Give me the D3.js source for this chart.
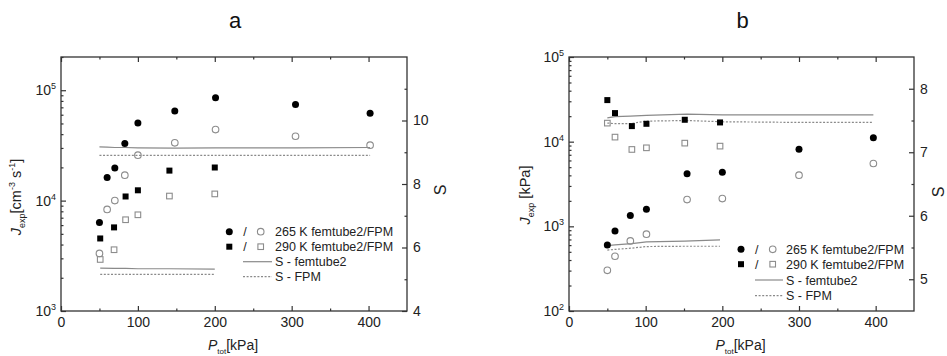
<!DOCTYPE html>
<html>
<head>
<meta charset="utf-8">
<script src="https://cdn.jsdelivr.net/npm/d3@7"></script>
<style>
  body { margin: 0; background: #fff; }
  svg { display: block; font-family: Arial, 'Liberation Sans', Helvetica, sans-serif; }
  .axis path { display: none; }
  .axis line { stroke: #333; stroke-width: 1.2; }
  .axis text { fill: #222; font-size: 14px; font-family: Arial, 'Liberation Sans', sans-serif; }
</style>
</head>
<body>
<svg id="chart" width="947" height="356"></svg>
<script>
// x axis (P_tot, kPa), same for both panels
const xTicks = [0, 100, 200, 300, 400];
const xMinor = [50, 150, 250, 350];

// panel a: J_exp [cm^-3 s^-1]
const aX265 = [50, 60, 70, 83, 100, 148, 201, 305, 402];
const aJ265Fem = [6340, 16200, 19700, 32900, 50600, 65000, 85300, 74200, 61900];
const aJ265Fpm = [3320, 8320, 10000, 17000, 25800, 33400, 44000, 38300, 31800];
const aX290 = [51, 69, 84, 100, 141, 200];
const aJ290Fem = [4540, 5720, 10900, 12400, 18700, 19950];
const aJ290Fpm = [2930, 3590, 6710, 7440, 11000, 11500];
const aS265Fem = [9.17, 9.16, 9.15, 9.15, 9.14, 9.13, 9.14, 9.14, 9.15];
const aS265Fpm = [8.9, 8.9, 8.9, 8.9, 8.9, 8.9, 8.9, 8.9, 8.9];
const aS290Fem = [5.35, 5.34, 5.34, 5.33, 5.33, 5.32];
const aS290Fpm = [5.155, 5.155, 5.155, 5.155, 5.155, 5.155];
const aJTicks = [1e3, 1e4, 1e5];
const aSTicks = [4, 6, 8, 10];
const aSMinor = [5, 7, 9, 11];

// panel b: J_exp [kPa]
const bX265 = [50, 60, 80, 101, 154, 200, 300, 397];
const bJ265Fem = [603, 883, 1340, 1590, 4170, 4360, 8160, 11100];
const bJ265Fpm = [302, 443, 672, 807, 2070, 2130, 4020, 5520];
const bX290 = [50, 60, 82, 101, 151, 197];
const bJ290Fem = [30970, 21750, 15270, 16260, 18140, 16870];
const bJ290Fpm = [16560, 11320, 8090, 8460, 9610, 8860];
const bS265Fem = [7.54, 7.56, 7.57, 7.58, 7.6, 7.59, 7.59, 7.59];
const bS265Fpm = [7.46, 7.45, 7.45, 7.49, 7.5, 7.48, 7.47, 7.47];
const bS290Fem = [5.53, 5.54, 5.56, 5.59, 5.6, 5.62];
const bS290Fpm = [5.46, 5.47, 5.49, 5.515, 5.52, 5.52];
const bJTicks = [1e2, 1e3, 1e4, 1e5];
const bSTicks = [5, 6, 7, 8];
const bSMinor = [5.5, 6.5, 7.5];

const legendLabels = ['265 K femtube2/FPM', '290 K femtube2/FPM', 'S - femtube2', 'S - FPM'];

const svg = d3.select('#chart');
const openColor = '#8c8c8c';
const lineColor = '#8a8a8a';

function drawPanel(p) {
  const x = d3.scaleLinear().domain([0, 450]).range([p.left, p.right]);
  const y = d3.scaleLog().domain(p.jDomain).range([p.bottom, p.top]);
  const s = d3.scaleLinear().domain(p.sDomain).range([p.bottom, p.top]);

  const g = svg.append('g');

  // frame
  g.append('rect')
    .attr('x', p.left).attr('y', p.top)
    .attr('width', p.right - p.left).attr('height', p.bottom - p.top)
    .attr('fill', 'none').attr('stroke', '#333').attr('stroke-width', 1.3);

  // bottom + top axis (ticks inward)
  g.append('g').attr('class', 'axis').attr('transform', 'translate(0,' + p.bottom + ')')
    .call(d3.axisBottom(x).tickValues(xTicks).tickSizeInner(-5).tickSizeOuter(0).tickPadding(6));
  g.append('g').attr('class', 'axis').attr('transform', 'translate(0,' + p.bottom + ')')
    .call(d3.axisBottom(x).tickValues(xMinor).tickSizeInner(-2.5).tickSizeOuter(0).tickFormat(''));
  g.append('g').attr('class', 'axis').attr('transform', 'translate(0,' + p.top + ')')
    .call(d3.axisTop(x).tickValues(xTicks).tickSizeInner(-5).tickSizeOuter(0).tickFormat(''));
  g.append('g').attr('class', 'axis').attr('transform', 'translate(0,' + p.top + ')')
    .call(d3.axisTop(x).tickValues(xMinor).tickSizeInner(-2.5).tickSizeOuter(0).tickFormat(''));

  // left log axis
  const minor = y.ticks().filter(v => p.jTicks.indexOf(v) < 0);
  g.append('g').attr('class', 'axis').attr('transform', 'translate(' + p.left + ',0)')
    .call(d3.axisLeft(y).tickValues(p.jTicks).tickSizeInner(-5).tickSizeOuter(0).tickFormat(''));
  g.append('g').attr('class', 'axis').attr('transform', 'translate(' + p.left + ',0)')
    .call(d3.axisLeft(y).tickValues(minor).tickSizeInner(-2.5).tickSizeOuter(0).tickFormat(''));

  p.jTicks.forEach(v => {
    const t = g.append('text')
      .attr('x', p.left - 5).attr('y', y(v) + 5)
      .attr('text-anchor', 'end').attr('fill', '#222').attr('font-size', 14);
    t.append('tspan').text('10');
    t.append('tspan').attr('dy', -6).attr('font-size', 9).text(Math.round(Math.log10(v)));
  });

  // right S axis
  g.append('g').attr('class', 'axis').attr('transform', 'translate(' + p.right + ',0)')
    .call(d3.axisRight(s).tickValues(p.sTicks).tickSizeInner(-5).tickSizeOuter(0).tickPadding(6).tickFormat(d3.format('d')));
  g.append('g').attr('class', 'axis').attr('transform', 'translate(' + p.right + ',0)')
    .call(d3.axisRight(s).tickValues(p.sMinor).tickSizeInner(-2.5).tickSizeOuter(0).tickFormat(''));

  // S lines
  const line = d3.line().x(d => x(d[0])).y(d => s(d[1]));
  [[p.x265, p.s265Fem, null], [p.x265, p.s265Fpm, '2,1.6'],
   [p.x290, p.s290Fem, null], [p.x290, p.s290Fpm, '2,1.6']].forEach(l => {
    g.append('path')
      .attr('d', line(d3.zip(l[0], l[1])))
      .attr('fill', 'none').attr('stroke', lineColor).attr('stroke-width', 1.2)
      .attr('stroke-dasharray', l[2]);
  });

  // markers
  g.selectAll(null).data(d3.zip(p.x265, p.j265Fpm)).enter().append('circle')
    .attr('cx', d => x(d[0])).attr('cy', d => y(d[1])).attr('r', 3.3)
    .attr('fill', 'none').attr('stroke', openColor).attr('stroke-width', 1.1);
  g.selectAll(null).data(d3.zip(p.x290, p.j290Fpm)).enter().append('rect')
    .attr('x', d => x(d[0]) - 2.8).attr('y', d => y(d[1]) - 2.8)
    .attr('width', 5.6).attr('height', 5.6)
    .attr('fill', 'none').attr('stroke', openColor).attr('stroke-width', 1.1);
  g.selectAll(null).data(d3.zip(p.x265, p.j265Fem)).enter().append('circle')
    .attr('cx', d => x(d[0])).attr('cy', d => y(d[1])).attr('r', 3.5)
    .attr('fill', '#000');
  g.selectAll(null).data(d3.zip(p.x290, p.j290Fem)).enter().append('rect')
    .attr('x', d => x(d[0]) - 3).attr('y', d => y(d[1]) - 3)
    .attr('width', 6).attr('height', 6)
    .attr('fill', '#000');

  // legend
  const lg = p.legend;
  lg.rows.forEach((ry, i) => {
    if (i < 2) {
      if (i === 0) {
        g.append('circle').attr('cx', lg.x0).attr('cy', ry).attr('r', 3.5).attr('fill', '#000');
        g.append('circle').attr('cx', lg.x2).attr('cy', ry).attr('r', 3.3)
          .attr('fill', 'none').attr('stroke', openColor).attr('stroke-width', 1.1);
      } else {
        g.append('rect').attr('x', lg.x0 - 3).attr('y', ry - 3).attr('width', 6).attr('height', 6).attr('fill', '#000');
        g.append('rect').attr('x', lg.x2 - 2.8).attr('y', ry - 2.8).attr('width', 5.6).attr('height', 5.6)
          .attr('fill', 'none').attr('stroke', openColor).attr('stroke-width', 1.1);
      }
      g.append('text').attr('x', lg.x1).attr('y', ry + 4.5).attr('text-anchor', 'middle')
        .attr('font-size', 12.5).attr('fill', '#222').text('/');
    } else {
      g.append('line').attr('x1', lg.l0).attr('x2', lg.l1).attr('y1', ry).attr('y2', ry)
        .attr('stroke', lineColor).attr('stroke-width', 1.2)
        .attr('stroke-dasharray', i === 3 ? '2,1.6' : null);
    }
    g.append('text').attr('x', lg.x3).attr('y', ry + 4.5)
      .attr('font-size', 12.5).attr('fill', '#222').text(legendLabels[i]);
  });

  // titles
  g.append('text').attr('x', (p.left + p.right) / 2 + 1).attr('y', 28)
    .attr('text-anchor', 'middle').attr('font-size', 22).attr('fill', '#111').text(p.title);

  const xt = g.append('text').attr('x', (p.left + p.right) / 2 - 1).attr('y', 350)
    .attr('text-anchor', 'middle').attr('font-size', 14).attr('fill', '#222');
  xt.append('tspan').attr('font-style', 'italic').text('P');
  xt.append('tspan').attr('dy', 3.5).attr('font-size', 8).text('tot');
  xt.append('tspan').attr('dy', -3.5).text('[kPa]');

  const yt = g.append('text')
    .attr('transform', 'translate(' + p.yTitleX + ',' + p.yTitleY + ') rotate(-90)')
    .attr('text-anchor', 'middle').attr('font-size', 14.5).attr('fill', '#222');
  yt.append('tspan').attr('font-style', 'italic').text('J');
  yt.append('tspan').attr('dy', 4).attr('font-size', 9).text('exp');
  if (p.unitsCm) {
    yt.append('tspan').attr('dy', -4).text('[cm');
    yt.append('tspan').attr('dy', -6).attr('font-size', 9).text('-3');
    yt.append('tspan').attr('dy', 6).text(' s');
    yt.append('tspan').attr('dy', -6).attr('font-size', 9).text('-1');
    yt.append('tspan').attr('dy', 6).text(']');
  } else {
    yt.append('tspan').attr('dy', -4).text(' [kPa]');
  }

  g.append('text')
    .attr('transform', 'translate(' + p.sTitleX + ',' + p.sTitleY + ') rotate(-90)')
    .attr('text-anchor', 'middle').attr('dy', '0.35em')
    .attr('font-size', 16).attr('fill', '#222').text('S');
}

drawPanel({
  title: 'a', left: 61, right: 407, top: 57, bottom: 311,
  jDomain: [1e3, 2e5], jTicks: aJTicks,
  sDomain: [4, 12], sTicks: aSTicks, sMinor: aSMinor,
  x265: aX265, j265Fem: aJ265Fem, j265Fpm: aJ265Fpm, s265Fem: aS265Fem, s265Fpm: aS265Fpm,
  x290: aX290, j290Fem: aJ290Fem, j290Fpm: aJ290Fpm, s290Fem: aS290Fem, s290Fpm: aS290Fpm,
  legend: { x0: 229.3, x1: 245, x2: 260.7, x3: 275, l0: 243, l1: 272, rows: [231.7, 246.7, 261.7, 276.7] },
  unitsCm: true, yTitleX: 21, yTitleY: 197, sTitleX: 440, sTitleY: 190
});

drawPanel({
  title: 'b', left: 569, right: 914, top: 57, bottom: 311,
  jDomain: [1e2, 1e5], jTicks: bJTicks,
  sDomain: [4.5, 8.5], sTicks: bSTicks, sMinor: bSMinor,
  x265: bX265, j265Fem: bJ265Fem, j265Fpm: bJ265Fpm, s265Fem: bS265Fem, s265Fpm: bS265Fpm,
  x290: bX290, j290Fem: bJ290Fem, j290Fpm: bJ290Fpm, s290Fem: bS290Fem, s290Fpm: bS290Fpm,
  legend: { x0: 741, x1: 756.7, x2: 772.7, x3: 786, l0: 755, l1: 783, rows: [249.3, 264.2, 280, 295.7] },
  unitsCm: false, yTitleX: 530, yTitleY: 195, sTitleX: 938, sTitleY: 192
});
</script>
</body>
</html>
